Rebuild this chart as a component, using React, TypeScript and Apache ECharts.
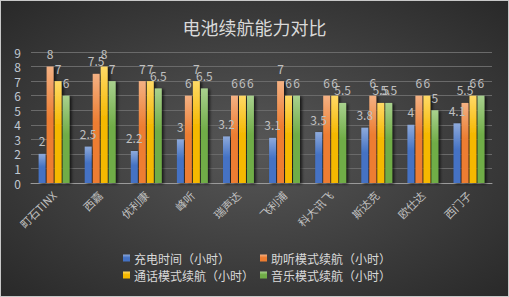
import React, { useEffect, useRef } from "react";
import * as echarts from "echarts";

const categories = ["町石TINX", "西嘉", "优利康", "峰听", "瑞声达", "飞利浦", "科大讯飞", "斯达克", "欧仕达", "西门子"];
const seriesNames = ["充电时间（小时）", "助听模式续航（小时）", "通话模式续航（小时）", "音乐模式续航（小时）"];
const chargeTime = [2, 2.5, 2.2, 3, 3.2, 3.1, 3.5, 3.8, 4, 4.1];
const hearingMode = [8, 7.5, 7, 6, 6, 7, 6, 6, 6, 5.5];
const callMode = [7, 8, 7, 7, 6, 6, 6, 5.5, 6, 6];
const musicMode = [6, 7, 6.5, 6.5, 6, 6, 5.5, 5.5, 5, 6];
const yTicks = [0, 9, 1];

const colors = [
  ["#8eaadb", "#4472c4"],
  ["#f4b183", "#ed7d31"],
  ["#ffd966", "#f5b800"],
  ["#a9d18e", "#70ad47"],
];

const FONT = "'Noto Sans CJK SC', 'Noto Sans', sans-serif";

export default function App() {
  const ref = useRef<HTMLDivElement>(null);
  useEffect(() => {
    if (!ref.current) return;
    const chart = echarts.init(ref.current, undefined, { renderer: "svg" });
    const values = [chargeTime, hearingMode, callMode, musicMode];
    const legendText = { color: "#d9d9d9", fontSize: 12, fontFamily: FONT, padding: [0, 0, 0, -1] };
    chart.setOption({
      animation: false,
      backgroundColor: {
        type: "radial",
        x: 0.5,
        y: 0.5,
        r: 0.75,
        colorStops: [
          { offset: 0, color: "#575757" },
          { offset: 1, color: "#262626" },
        ],
      },
      textStyle: { fontFamily: FONT },
      title: {
        text: "电池续航能力对比",
        left: "center",
        top: 12,
        textStyle: { color: "#d9d9d9", fontSize: 18, fontWeight: "normal", fontFamily: FONT },
      },
      legend: [
        {
          data: [seriesNames[0], seriesNames[2]],
          orient: "vertical",
          left: 122,
          top: 251,
          padding: 0,
          itemWidth: 7,
          itemHeight: 7,
          itemGap: 5,
          icon: "rect",
          textStyle: legendText,
        },
        {
          data: [seriesNames[1], seriesNames[3]],
          orient: "vertical",
          left: 259,
          top: 251,
          padding: 0,
          itemWidth: 7,
          itemHeight: 7,
          itemGap: 5,
          icon: "rect",
          textStyle: legendText,
        },
      ],
      grid: { left: 30, right: 16, top: 51, bottom: 113, containLabel: false },
      xAxis: {
        type: "category",
        data: categories,
        axisLine: { lineStyle: { color: "#9a9a9a", width: 1 } },
        axisTick: { show: false },
        axisLabel: { rotate: 45, color: "#c0c0c0", fontSize: 11, margin: 10, fontFamily: FONT },
      },
      yAxis: {
        type: "value",
        min: yTicks[0],
        max: yTicks[1],
        interval: yTicks[2],
        axisLine: { show: false },
        axisTick: { show: false },
        axisLabel: { color: "#c0c8d2", fontSize: 12, margin: 10, fontFamily: FONT },
        splitLine: { lineStyle: { color: "#6a6a6a", width: 1 } },
      },
      series: values.map((v, i) => ({
        name: seriesNames[i],
        type: "bar",
        data: v,
        barGap: "15%",
        barCategoryGap: "33%",
        itemStyle: {
          color: {
            type: "linear",
            x: 0,
            y: 0,
            x2: 0,
            y2: 1,
            colorStops: [
              { offset: 0, color: colors[i][0] },
              { offset: 0.45, color: colors[i][1] },
              { offset: 1, color: colors[i][1] },
            ],
          },
          shadowColor: "rgba(0,0,0,0.7)",
          shadowBlur: 3,
          shadowOffsetX: 2,
          shadowOffsetY: 1,
        },
        label: {
          show: true,
          position: "top",
          distance: 7,
          color: "#c0c0c0",
          fontSize: 12,
          fontFamily: FONT,
        },
      })),
    });
    return () => chart.dispose();
  }, []);
  return (
    <div
      style={{
        position: "absolute",
        left: 0,
        top: 0,
        width: 509,
        height: 297,
        boxSizing: "border-box",
        border: "1px solid #c8c8c8",
        overflow: "hidden",
      }}
    >
      <div ref={ref} style={{ width: 507, height: 295 }} />
    </div>
  );
}
